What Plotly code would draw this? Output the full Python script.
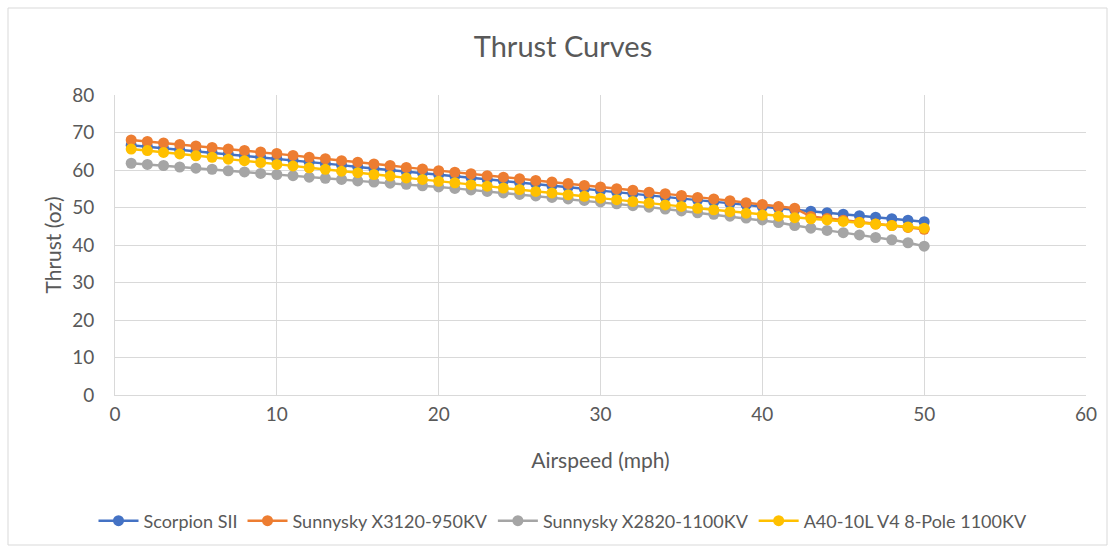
import plotly.graph_objects as go

airspeed = list(range(1, 51))

scorpion_sii = [66.6, 66.2, 65.8, 65.4, 65.0, 64.6, 64.2, 63.8, 63.4, 63.0,
                62.6, 62.1, 61.7, 61.3, 60.8, 60.4, 60.0, 59.6, 59.2, 58.8,
                58.4, 58.0, 57.5, 57.1, 56.7, 56.3, 55.8, 55.4, 55.0, 54.5,
                54.1, 53.7, 53.2, 52.8, 52.4, 52.0, 51.5, 51.1, 50.7, 50.2,
                49.8, 49.4, 49.0, 48.6, 48.2, 47.8, 47.4, 47.0, 46.6, 46.2]

sunnysky_x3120 = [68.0, 67.6, 67.2, 66.8, 66.4, 66.0, 65.6, 65.2, 64.8, 64.4,
                  63.9, 63.4, 63.0, 62.5, 62.1, 61.6, 61.2, 60.7, 60.3, 59.8,
                  59.4, 59.0, 58.5, 58.1, 57.7, 57.2, 56.8, 56.4, 55.9, 55.5,
                  55.0, 54.6, 54.1, 53.7, 53.2, 52.7, 52.3, 51.8, 51.3, 50.8,
                  50.3, 49.8, 47.6, 47.1, 46.6, 46.1, 45.6, 45.2, 44.7, 44.2]

sunnysky_x2820 = [61.8, 61.5, 61.2, 60.8, 60.5, 60.2, 59.8, 59.5, 59.1, 58.8,
                  58.5, 58.1, 57.8, 57.5, 57.1, 56.8, 56.5, 56.2, 55.8, 55.5,
                  55.1, 54.7, 54.3, 53.9, 53.5, 53.1, 52.7, 52.3, 51.9, 51.5,
                  51.0, 50.5, 50.1, 49.6, 49.1, 48.6, 48.2, 47.7, 47.2, 46.7,
                  46.0, 45.2, 44.5, 43.9, 43.3, 42.7, 42.0, 41.4, 40.6, 39.7]

a40_10l = [65.6, 65.2, 64.7, 64.3, 63.8, 63.4, 62.9, 62.5, 62.0, 61.5,
           61.1, 60.6, 60.2, 59.7, 59.3, 58.8, 58.4, 57.9, 57.5, 57.0,
           56.6, 56.1, 55.7, 55.2, 54.8, 54.3, 53.9, 53.4, 53.0, 52.5,
           52.1, 51.6, 51.2, 50.7, 50.3, 49.8, 49.4, 48.9, 48.5, 48.0,
           47.7, 47.3, 47.0, 46.7, 46.3, 46.0, 45.6, 45.2, 44.8, 44.5]

series_names = ["Scorpion SII", "Sunnysky X3120-950KV",
                "Sunnysky X2820-1100KV", "A40-10L V4 8-Pole 1100KV"]
series_values = [scorpion_sii, sunnysky_x3120, sunnysky_x2820, a40_10l]
colors = ["#4472C4", "#ED7D31", "#A5A5A5", "#FFC000"]

FONT = "Lato, 'Open Sans', sans-serif"
TXT = "#595959"

fig = go.Figure()
for name, vals, c in zip(series_names, series_values, colors):
    fig.add_trace(go.Scatter(
        x=airspeed, y=vals, name=name, mode="lines+markers",
        line=dict(color=c, width=2.5),
        marker=dict(color=c, size=11, line=dict(width=0)),
    ))

fig.update_layout(
    width=1114, height=552,
    paper_bgcolor="white", plot_bgcolor="white",
    margin=dict(l=115, r=28, t=95, b=157, autoexpand=False),
    font=dict(family=FONT, color=TXT, size=18),
    title=dict(text="Thrust Curves", x=563 / 1114, xref="container",
               xanchor="center", y=1 - 47 / 552, yref="container",
               yanchor="middle",
               font=dict(size=29, color=TXT, family=FONT)),
    xaxis=dict(range=[0, 60], dtick=10, showgrid=True, gridcolor="#D9D9D9",
               gridwidth=1, zeroline=False, showline=True, linecolor="#D9D9D9",
               linewidth=1, ticks="", tickfont=dict(size=19, color=TXT),
               ticklabelstandoff=2, automargin=False,
               title=dict(text="Airspeed (mph)", font=dict(size=21, color=TXT),
                          standoff=29)),
    yaxis=dict(range=[0, 80], dtick=10, showgrid=True, gridcolor="#D9D9D9",
               gridwidth=1, zeroline=False, showline=True, linecolor="#D9D9D9",
               linewidth=1, ticks="", tickfont=dict(size=19, color=TXT),
               ticklabelstandoff=16, automargin=False,
               title=dict(text="Thrust (oz)", font=dict(size=21, color=TXT),
                          standoff=4)),
    legend=dict(orientation="h", x=563 / 1114, xref="container",
                xanchor="center",
                y=(395 - 521) / 300, yanchor="middle",
                font=dict(size=18, color=TXT), itemwidth=40,
                tracegroupgap=0, traceorder="normal"),
    shapes=[dict(type="rect", xref="paper", yref="paper",
                 x0=(8 - 115) / 971, x1=(1107 - 115) / 971,
                 y0=(395 - 545) / 300, y1=(395 - 8) / 300,
                 line=dict(color="#D9D9D9", width=1), fillcolor="rgba(0,0,0,0)",
                 layer="below")],
)

fig.write_html("out.html")
